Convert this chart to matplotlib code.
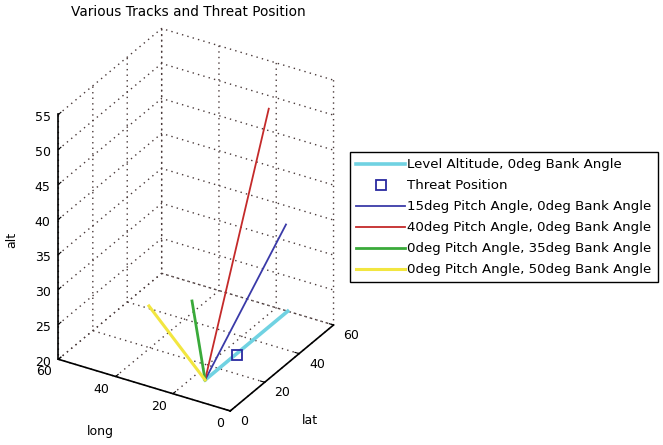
import matplotlib

matplotlib.use("Agg")
import matplotlib.pyplot as plt

plt.rcParams["font.family"] = ["DejaVu Sans"]
plt.rcParams["grid.linestyle"] = (0, (1, 3))
plt.rcParams["grid.color"] = "#4a3a3a"
plt.rcParams["grid.linewidth"] = 1.0

# tracks: (lat, long, alt) end points from the common start
level_lat = [12, 60]
level_long = [16, 16]
level_alt = [20, 20]

threat_lat = [30]
threat_long = [15.5]
threat_alt = [20]

pitch15_lat = [12, 59]
pitch15_long = [16, 16]
pitch15_alt = [20, 32.6]

pitch40_lat = [12, 49]
pitch40_long = [16, 16]
pitch40_alt = [20, 51.2]

bank35_lat = [12, 50.5]
bank35_long = [16, 43.7]
bank35_alt = [20, 20]

bank50_lat = [12, 41.3]
bank50_long = [16, 53.2]
bank50_alt = [20, 20]

lat_ticks = [0, 20, 40, 60]
long_ticks = [0, 20, 40, 60]
alt_ticks = [20, 25, 30, 35, 40, 45, 50, 55]

fig = plt.figure(figsize=(6.63, 4.45), dpi=100)
ax = fig.add_axes([0.008, 0.010, 0.56, 0.97], projection="3d", proj_type="ortho")
ax.view_init(elev=30, azim=-149)
ax.set_box_aspect((1, 1, 1.41), zoom=1.047)

ax.plot(level_lat, level_long, level_alt, color="#70d2e2", lw=2.6,
        label="Level Altitude, 0deg Bank Angle")
ax.plot(threat_lat, threat_long, threat_alt, ls="none", marker="s", ms=6.5,
        mfc="none", mec="#2a2aa0", mew=1.3, label="Threat Position")
ax.plot(pitch15_lat, pitch15_long, pitch15_alt, color="#3a3aa8", lw=1.3,
        label="15deg Pitch Angle, 0deg Bank Angle")
ax.plot(pitch40_lat, pitch40_long, pitch40_alt, color="#c42a2a", lw=1.3,
        label="40deg Pitch Angle, 0deg Bank Angle")
ax.plot(bank35_lat, bank35_long, bank35_alt, color="#3aaa3a", lw=2.0,
        label="0deg Pitch Angle, 35deg Bank Angle")
ax.plot(bank50_lat, bank50_long, bank50_alt, color="#f2e640", lw=2.2,
        label="0deg Pitch Angle, 50deg Bank Angle")

ax.set_xlim(0, 60)
ax.set_ylim(0, 60)
ax.set_zlim(20, 55)
ax.set_xticks(lat_ticks)
ax.set_yticks(long_ticks)
ax.set_zticks(alt_ticks)
ax.tick_params(labelsize=9, pad=0)

for axis in (ax.xaxis, ax.yaxis, ax.zaxis):
    axis.set_pane_color((1, 1, 1, 0))
    axis.pane.set_edgecolor("none")
    axis.line.set_color("black")
    axis.line.set_linewidth(1.2)
    axis._axinfo["tick"]["inward_factor"] = 0.0
    axis._axinfo["tick"]["outward_factor"] = 0.3

# shift the tick labels away from the axis lines
for lab in ax.xaxis.get_ticklabels():
    lab.set_ha("left")
    lab.set_va("bottom")
for lab in ax.yaxis.get_ticklabels():
    lab.set_ha("right")
    lab.set_va("bottom")
for lab in ax.zaxis.get_ticklabels():
    lab.set_va("center_baseline")

fig.text(0.284, 0.973, "Various Tracks and Threat Position", ha="center",
         va="center", fontsize=9.8)
fig.text(0.018, 0.46, "alt", rotation=90, ha="center", va="center", fontsize=9)
fig.text(0.151, 0.03, "long", ha="center", va="center", fontsize=9)
fig.text(0.468, 0.056, "lat", ha="center", va="center", fontsize=9)

fig.legend(loc="upper left", bbox_to_anchor=(0.528, 0.658), fontsize=9.6,
           frameon=True, fancybox=False, edgecolor="black", framealpha=1,
           handlelength=3.7, borderpad=0.45, labelspacing=0.6,
           handletextpad=0.15, borderaxespad=0)

fig.savefig("out.png", dpi=100)
